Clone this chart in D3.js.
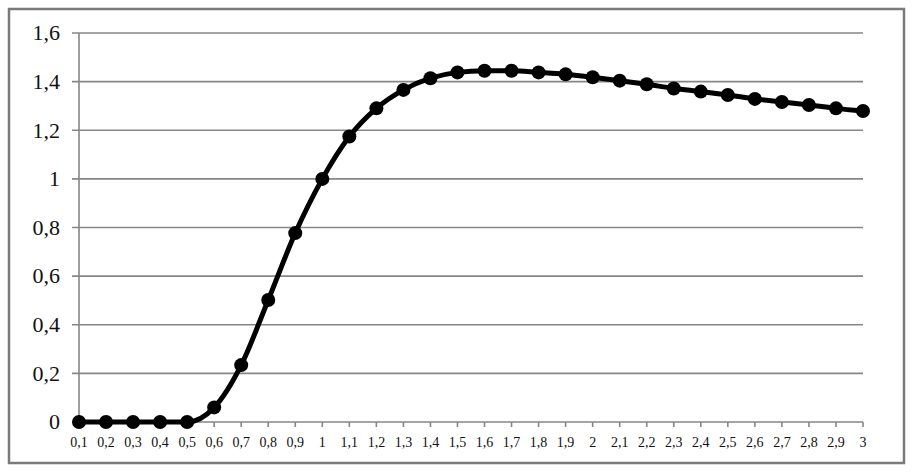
<!DOCTYPE html>
<html><head><meta charset="utf-8">
<script src="https://cdn.jsdelivr.net/npm/d3@7"></script>
<style>body{margin:0;background:#fff;} svg{display:block;} text{font-family:"Liberation Serif","Times New Roman",serif;}</style>
</head><body>
<svg id="c" width="917" height="473"></svg>
<script>
const categories = ["0,1","0,2","0,3","0,4","0,5","0,6","0,7","0,8","0,9","1","1,1","1,2","1,3","1,4","1,5","1,6","1,7","1,8","1,9","2","2,1","2,2","2,3","2,4","2,5","2,6","2,7","2,8","2,9","3"];
const values = [0,0,0,0,0,0.06,0.234,0.502,0.777,1.0,1.174,1.29,1.366,1.414,1.438,1.445,1.445,1.438,1.43,1.418,1.404,1.389,1.372,1.359,1.345,1.329,1.316,1.304,1.29,1.279];
const yTicks = [0,0.2,0.4,0.6,0.8,1,1.2,1.4,1.6];
const yTickLabels = ["0","0,2","0,4","0,6","0,8","1","1,2","1,4","1,6"];

(function(){
const svg = d3.select("#c");
const pL = 79, pR = 863, pT = 33, pB = 422;
svg.append("rect").attr("x",9).attr("y",9).attr("width",895).attr("height",454)
  .attr("fill","#fff").attr("stroke","#7a7a7a").attr("stroke-width",2.5);

const x = d3.scalePoint().domain(categories).range([pL,pR]);
const y = d3.scaleLinear().domain([0,1.6]).range([pB,pT]);

const g = svg.append("g");
g.selectAll("line.grid").data(yTicks).join("line")
  .attr("x1",72).attr("x2",pR).attr("y1",d=>y(d)).attr("y2",d=>y(d))
  .attr("stroke","#868686").attr("stroke-width",1.6);
g.append("line").attr("x1",pL).attr("x2",pL).attr("y1",pT).attr("y2",pB)
  .attr("stroke","#868686").attr("stroke-width",1.6);
g.selectAll("text.yl").data(yTicks).join("text")
  .attr("x",60).attr("y",d=>y(d)).attr("dy","0.33em").attr("text-anchor","end")
  .style("font-size","22px").attr("fill","#111")
  .text((d,i)=>yTickLabels[i]);
g.selectAll("line.xt").data(categories).join("line")
  .attr("x1",d=>x(d)).attr("x2",d=>x(d)).attr("y1",pB).attr("y2",pB+5)
  .attr("stroke","#868686").attr("stroke-width",1.6);
g.selectAll("text.xl").data(categories).join("text")
  .attr("x",d=>x(d)).attr("y",447).attr("text-anchor","middle")
  .style("font-size","14px").attr("fill","#111")
  .text(d=>d);

const line = d3.line().x((d,i)=>x(categories[i])).y(d=>y(d)).curve(d3.curveMonotoneX);
svg.append("path").datum(values).attr("d",line).attr("fill","none")
  .attr("stroke","#000").attr("stroke-width",5).attr("stroke-linejoin","round");
svg.selectAll("circle.pt").data(values).join("circle")
  .attr("cx",(d,i)=>x(categories[i])).attr("cy",d=>y(d)).attr("r",7).attr("fill","#000");
})();
</script>
</body></html>
